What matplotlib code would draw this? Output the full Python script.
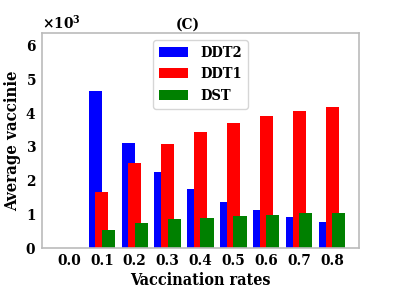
import matplotlib
matplotlib.use("Agg")
import matplotlib.pyplot as plt
import numpy as np
from matplotlib.ticker import ScalarFormatter

rates = ["0.0", "0.1", "0.2", "0.3", "0.4", "0.5", "0.6", "0.7", "0.8"]
ddt2 = [0, 4650, 3090, 2260, 1740, 1370, 1110, 910, 760]
ddt1 = [0, 1660, 2500, 3060, 3420, 3700, 3900, 4060, 4170]
dst = [0, 540, 730, 850, 900, 940, 980, 1040, 1030]

plt.rcParams["font.family"] = "DejaVu Serif"
plt.rcParams["font.weight"] = "bold"
plt.rcParams["font.stretch"] = "condensed"
plt.rcParams["mathtext.fontset"] = "dejavuserif"
plt.rcParams["mathtext.default"] = "bf"

fig = plt.figure(figsize=(3.99, 3.0), dpi=100)
ax = fig.add_axes([0.105, 0.173, 0.795, 0.717])

x = np.arange(len(rates))
w = 0.4
ax.bar(x - 0.2, ddt2, w, color="blue", label="DDT2")
ax.bar(x, ddt1, w, color="red", label="DDT1")
ax.bar(x + 0.2, dst, w, color="green", label="DST")

ax.set_xlim(-0.82, 8.82)
ax.set_ylim(0, 6350)
ax.set_xticks(x)
ax.set_xticklabels(rates)
ax.set_yticks([0, 1000, 2000, 3000, 4000, 5000, 6000])

fmt = ScalarFormatter(useMathText=True)
fmt.set_powerlimits((0, 0))
ax.yaxis.set_major_formatter(fmt)
ax.yaxis.get_offset_text().set_fontsize(11)
ax.yaxis.get_offset_text().set_fontweight("bold")

ax.tick_params(length=0, labelsize=11, pad=4)
for lbl in ax.get_xticklabels() + ax.get_yticklabels():
    lbl.set_fontweight("bold")
for s in ax.spines.values():
    s.set_color("#bbbbbb")
    s.set_linewidth(1.2)

ax.set_xlabel("Vaccination rates", fontsize=11.5, fontweight="bold", labelpad=3)
ax.set_ylabel("Average vaccinie", fontsize=12, fontweight="bold", labelpad=3)
ax.set_title("(C)", fontsize=11, fontweight="bold", x=0.46, pad=3)

ax.legend(loc="upper center", prop={"weight": "bold", "size": 10.5},
          handlelength=2.0)

fig.savefig("out.png", dpi=100)
